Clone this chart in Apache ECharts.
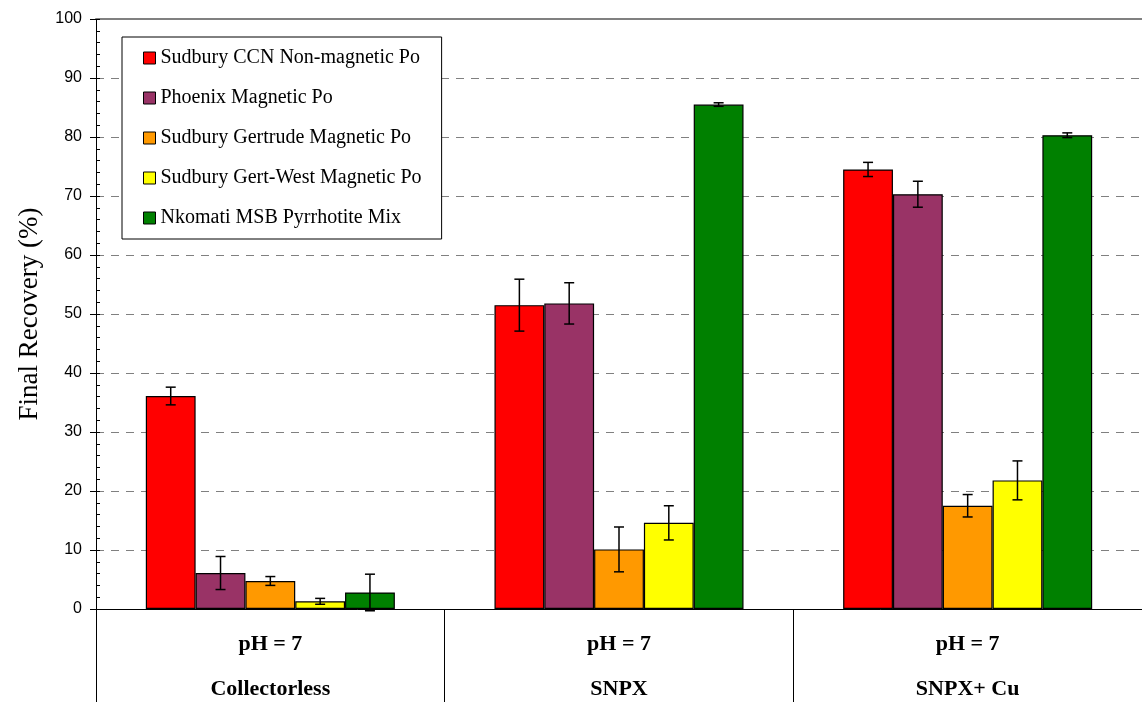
<!DOCTYPE html>
<html>
<head>
<meta charset="utf-8">
<script src="https://cdn.jsdelivr.net/npm/echarts@6/dist/echarts.min.js"></script>
<style>html,body{margin:0;padding:0;background:#fff}#c{width:1142px;height:702px}</style>
</head>
<body>
<div id="c"></div>
<script>
var categories = ['Collectorless', 'SNPX', 'SNPX+ Cu'];
var conditionLabel = 'pH = 7';
var seriesNames = ['Sudbury CCN Non-magnetic Po', 'Phoenix Magnetic Po', 'Sudbury Gertrude Magnetic Po', 'Sudbury Gert-West Magnetic Po', 'Nkomati MSB Pyrrhotite Mix'];
var seriesColors = ['#FF0000', '#993366', '#FF9900', '#FFFF00', '#008000'];
var ccnValues = [36.1, 51.5, 74.5];
var phoenixValues = [6.1, 51.8, 70.3];
var gertrudeValues = [4.75, 10.1, 17.5];
var gertWestValues = [1.3, 14.6, 21.8];
var nkomatiValues = [2.8, 85.5, 80.3];
var ccnErr = [1.5, 4.4, 1.2];
var phoenixErr = [2.8, 3.5, 2.2];
var gertrudeErr = [0.75, 3.8, 1.9];
var gertWestErr = [0.5, 2.9, 3.3];
var nkomatiErr = [3.1, 0.3, 0.4];
var yTicks = [0, 10, 20, 30, 40, 50, 60, 70, 80, 90, 100];

var allValues = [ccnValues, phoenixValues, gertrudeValues, gertWestValues, nkomatiValues];
var allErr = [ccnErr, phoenixErr, gertrudeErr, gertWestErr, nkomatiErr];
var gapRatio = 100 / 350;
var nSeries = allValues.length;

var series = [];
allValues.forEach(function (vals, si) {
  series.push({
    name: seriesNames[si],
    type: 'bar',
    data: vals,
    barGap: '0%',
    barCategoryGap: (gapRatio * 100) + '%',
    itemStyle: { color: seriesColors[si], borderColor: '#000', borderWidth: 1.2 },
    emphasis: { disabled: true }
  });
});

var errData = [];
allValues.forEach(function (vals, si) {
  vals.forEach(function (v, ci) {
    errData.push([ci, v, allErr[si][ci], si]);
  });
});

series.push({
  type: 'custom',
  name: 'err',
  silent: true,
  z: 10,
  data: errData,
  renderItem: function (params, api) {
    var ci = api.value(0), v = api.value(1), e = api.value(2), si = api.value(3);
    var center = api.coord([ci, v]);
    var catW = api.size([1, 0])[0];
    var bw = catW * (1 - gapRatio) / nSeries;
    var x = center[0] + (si - (nSeries - 1) / 2) * bw;
    var top = api.coord([ci, v + e])[1];
    var bot = api.coord([ci, v - e])[1];
    var cap = 5;
    var st = { stroke: '#000', lineWidth: 1.5 };
    return {
      type: 'group',
      children: [
        { type: 'line', shape: { x1: x, y1: top, x2: x, y2: bot }, style: st },
        { type: 'line', shape: { x1: x - cap, y1: top, x2: x + cap, y2: top }, style: st },
        { type: 'line', shape: { x1: x - cap, y1: bot, x2: x + cap, y2: bot }, style: st }
      ]
    };
  }
});

var chart = echarts.init(document.getElementById('c'), null, { renderer: 'canvas' });
chart.setOption({
  animation: false,
  backgroundColor: '#fff',
  grid: { left: 96, top: 19, width: 1051, height: 590, containLabel: false },
  legend: {
    orient: 'vertical',
    left: 122, top: 37,
    padding: [11, 20, 11, 21],
    itemWidth: 12, itemHeight: 12, itemGap: 20,
    backgroundColor: '#fff',
    borderColor: '#000', borderWidth: 1,
    data: seriesNames.map(function (n, i) {
      return { name: n, icon: 'rect', itemStyle: { color: seriesColors[i], borderColor: '#000', borderWidth: 1 } };
    }),
    textStyle: { fontFamily: 'Liberation Serif', fontSize: 20, lineHeight: 20, color: '#000' },
    itemStyle: { borderColor: '#000', borderWidth: 1 },
    selectedMode: false
  },
  xAxis: [{
    type: 'category',
    data: categories,
    axisLine: { lineStyle: { color: '#000', width: 1 } },
    axisTick: { show: true, interval: 0, length: 93, lineStyle: { color: '#000' } },
    axisLabel: {
      interval: 0,
      margin: 13,
      formatter: function (v) { return '{a|' + conditionLabel + '}\n{b|' + v + '}'; },
      rich: {
        a: { fontFamily: 'Liberation Serif', fontWeight: 'bold', fontSize: 22, lineHeight: 45, color: '#000' },
        b: { fontFamily: 'Liberation Serif', fontWeight: 'bold', fontSize: 22, lineHeight: 45, color: '#000' }
      }
    }
  }, {
    type: 'category',
    data: categories,
    position: 'top',
    axisLine: { show: true, onZero: false, lineStyle: { color: '#808080', width: 2 } },
    axisTick: { show: false },
    axisLabel: { show: false }
  }],
  yAxis: [{
    type: 'value',
    min: 0, max: 100, interval: 10,
    name: 'Final Recovery (%)',
    nameLocation: 'middle',
    nameGap: 53,
    nameTextStyle: { fontFamily: 'Liberation Serif', fontSize: 27, color: '#000' },
    axisLine: { show: true, lineStyle: { color: '#000', width: 1 } },
    axisTick: { show: true, length: 6, lineStyle: { color: '#000' } },
    axisLabel: { margin: 14, fontFamily: 'Liberation Sans', fontSize: 16, color: '#000', formatter: function (v) { return yTicks.indexOf(v) >= 0 ? String(v) : ''; } },
    splitLine: { show: true, lineStyle: { color: '#808080', width: 1, type: [8, 7] } }
  }, {
    type: 'value',
    min: 0, max: 100, interval: 2,
    position: 'left',
    axisLine: { show: false },
    axisTick: { show: true, inside: true, length: 4, lineStyle: { color: '#000' } },
    axisLabel: { show: false },
    splitLine: { show: false }
  }],
  series: series
});
</script>
</body>
</html>
